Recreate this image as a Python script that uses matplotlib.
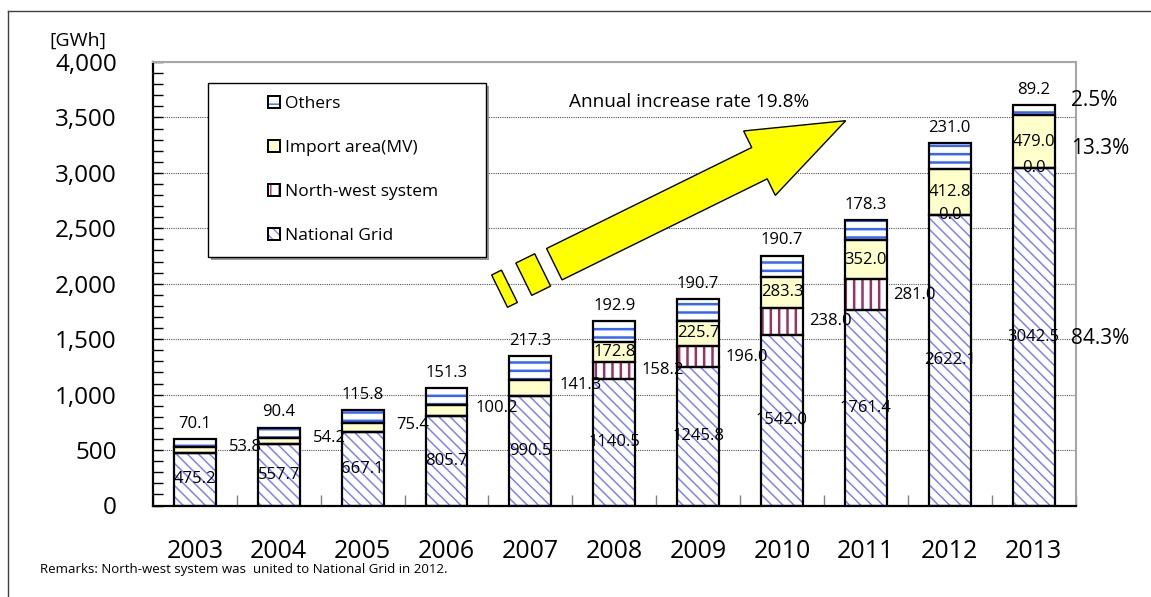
# Electricity demand by supply system, 2003-2013 (stacked bars)
import numpy as np
import matplotlib.pyplot as plt
from matplotlib.patches import Patch, Rectangle, Polygon
from matplotlib.lines import Line2D
from matplotlib.ticker import MultipleLocator, FuncFormatter

# data [GWh]
years = ['2003', '2004', '2005', '2006', '2007', '2008', '2009', '2010', '2011', '2012', '2013']
national = [475.2, 557.7, 667.1, 805.7, 990.5, 1140.5, 1245.8, 1542.0, 1761.4, 2622.1, 3042.5]
northwest = [0.0, 0.0, 0.0, 0.0, 0.0, 158.2, 196.0, 238.0, 281.0, 0.0, 0.0]
import_mv = [53.8, 54.2, 75.4, 100.2, 141.3, 172.8, 225.7, 283.3, 352.0, 412.8, 479.0]
others = [70.1, 90.4, 115.8, 151.3, 217.3, 192.9, 190.7, 190.7, 178.3, 231.0, 89.2]
rate_text = 'Annual increase rate 19.8%'
remark = 'Remarks: North-west system was  united to National Grid in 2012.'

plt.rcParams['font.family'] = ['Open Sans', 'DejaVu Sans']

W, H = 1151, 597


def fx(px):
    return px / W


def fy(py):
    return 1 - py / H


fig = plt.figure(figsize=(W / 100, H / 100), dpi=100)
ax = fig.add_axes([fx(153), fy(505.5), (1075.5 - 153) / W, (505.5 - 62) / H])

x = np.arange(len(years))
nat = np.array(national)
nw = np.array(northwest)
imp = np.array(import_mv)
oth = np.array(others)

# (values, fill, hatch colour, hatch, hatch width, label)
series = [
    (nat, 'white', '#8080ff', '\\\\\\', 1.1, 'National Grid'),
    (nw, 'white', '#993366', '||', 1.8, 'North-west system'),
    (imp, '#ffffcc', '#ffffcc', '', 0.0, 'Import area(MV)'),
    (oth, 'white', '#3366ff', '--', 1.8, 'Others'),
]

bottom = np.zeros(len(x))
handles = []
for vals, fill, hcol, hatch, hlw, label in series:
    with plt.rc_context({'hatch.linewidth': max(hlw, 0.1)}):
        bars = ax.bar(x, vals, 0.5, bottom=bottom, color=fill, edgecolor=hcol,
                      hatch=hatch, linewidth=0, zorder=2)
        for b in bars:
            if hasattr(b, 'set_hatch_linewidth'):
                b.set_hatch_linewidth(max(hlw, 0.1))
        h1 = Patch(facecolor=fill, edgecolor=hcol, hatch=hatch, linewidth=0)
        if hasattr(h1, 'set_hatch_linewidth'):
            h1.set_hatch_linewidth(max(hlw, 0.1))
    ax.bar(x, vals, 0.5, bottom=bottom, fill=False, edgecolor='black',
           linewidth=1.6, zorder=3)
    h2 = Patch(fill=False, edgecolor='black', linewidth=1.4)
    handles.append(((h1, h2), label))
    bottom = bottom + vals

total = bottom

# data labels
lab = dict(fontsize=12, ha='center', va='center', zorder=6)
for i in x:
    ax.text(i, nat[i] / 2, f'{nat[i]:.1f}', **lab)
    ax.annotate(f'{oth[i]:.1f}', (i, total[i]), xytext=(0, 11),
                textcoords='offset points', **lab)
    imp_mid = nat[i] + nw[i] + imp[i] / 2
    if i < 5:
        ax.annotate(f'{imp[i]:.1f}', (i + 0.6, imp_mid), xytext=(0, 2),
                    textcoords='offset points', **lab)
    else:
        ax.text(i, imp_mid, f'{imp[i]:.1f}', **lab)
        if nw[i] > 0:
            ax.text(i + 0.58, nat[i] + nw[i] / 2, f'{nw[i]:.1f}', **lab)
        else:
            ax.text(i, nat[i], f'{nw[i]:.1f}', **lab)

# shares of the last year
last = len(x) - 1
shares = [
    (oth[last], total[last] - oth[last] / 2, 7),
    (imp[last], nat[last] + imp[last] / 2, -5),
    (nat[last], nat[last] / 2, -1.5),
]
for v, ypos, off in shares:
    ax.annotate(f'{v / total[last] * 100:.1f}%', (10.45, ypos), xytext=(0, off),
                textcoords='offset points', fontsize=15, ha='left',
                va='center', annotation_clip=False, zorder=6)

# axes
ax.set_xlim(-0.5, 10.5)
ax.set_ylim(0, 4000)
ax.yaxis.set_major_locator(MultipleLocator(500))
ax.yaxis.set_minor_locator(MultipleLocator(100))
ax.yaxis.set_major_formatter(FuncFormatter(lambda v, p: f'{v:,.0f}'))
ax.tick_params(axis='y', which='both', direction='in', length=7, width=1,
               labelsize=17.5, pad=26)
ax.set_xticks(x, years)
ax.set_xticks(np.arange(-0.5, 11, 1), minor=True)
ax.tick_params(axis='x', which='major', length=0, labelsize=18, pad=24)
ax.tick_params(axis='x', which='minor', direction='in', length=8,
               color='#808080', width=1)
ax.grid(axis='y', which='major', color='#555555', linestyle=(0, (1, 1)),
        linewidth=0.8)
ax.set_axisbelow(True)
for s in ['left', 'bottom']:
    ax.spines[s].set_color('black')
    ax.spines[s].set_linewidth(1.6)
for s in ['top', 'right']:
    ax.spines[s].set_color('#a6a6a6')
    ax.spines[s].set_linewidth(1.5)

fig.text(fx(78), fy(41), '[GWh]', fontsize=14, ha='center', va='center')

# legend box with shadow
fig.add_artist(Rectangle((fx(211), fy(260)), fx(277.5), 174 / H, transform=fig.transFigure,
                         facecolor='#9a9a9a', edgecolor='none', zorder=2))
fig.add_artist(Rectangle((fx(208.3), fy(256.7)), fx(277.4), 174 / H, transform=fig.transFigure,
                         facecolor='white', edgecolor='black', linewidth=1, zorder=3))
leg = fig.legend([h for h, _ in handles[::-1]], [l for _, l in handles[::-1]],
                 loc='center left', bbox_to_anchor=(fx(259.3), fy(170)),
                 frameon=False, borderpad=0, fontsize=12.5, handlelength=0.69,
                 handleheight=0.67, handletextpad=0.3, labelspacing=1.62)
leg.set_zorder(4)

# growth arrow (image pixel frame)
p0 = np.array([554.3, 264.2])
tip = np.array([845.7, 120.7])
u = (tip - p0) / np.linalg.norm(tip - p0)
n = np.array([-u[1], u[0]])
length = np.linalg.norm(tip - p0)


def to_fig(pts):
    pts = np.array([p0 + s * u + t * n for s, t in pts])
    return np.column_stack([fx(pts[:, 0]), fy(pts[:, 1])])


shaft_end, half_w, head_w = 228.7, 17.5, 35.9
arrow = [(0, -half_w), (shaft_end, -half_w), (shaft_end, -head_w), (length, 0),
         (shaft_end, head_w), (shaft_end, half_w), (0, half_w)]
dash2 = [(-34, -18), (-13, -18), (-13, 18), (-34, 18)]
dash1 = [(-61, -18), (-50, -18), (-50, 18), (-61, 18)]
for shape in [arrow, dash2, dash1]:
    fig.add_artist(Polygon(to_fig(shape), closed=True, transform=fig.transFigure,
                           facecolor='#ffff00', edgecolor='black', linewidth=1,
                           zorder=3))

fig.text(fx(689), fy(102), rate_text, fontsize=13.7, ha='center', va='center')
fig.text(fx(40), fy(570), remark, fontsize=9.5, ha='left', va='center')

# outer chart frame
fig.add_artist(Line2D([fx(8), 1], [fy(11), fy(11)], color='#404040', linewidth=1))
fig.add_artist(Line2D([fx(8), fx(8)], [fy(11), 0], color='#404040', linewidth=1))

fig.savefig('out.png', dpi=100)
